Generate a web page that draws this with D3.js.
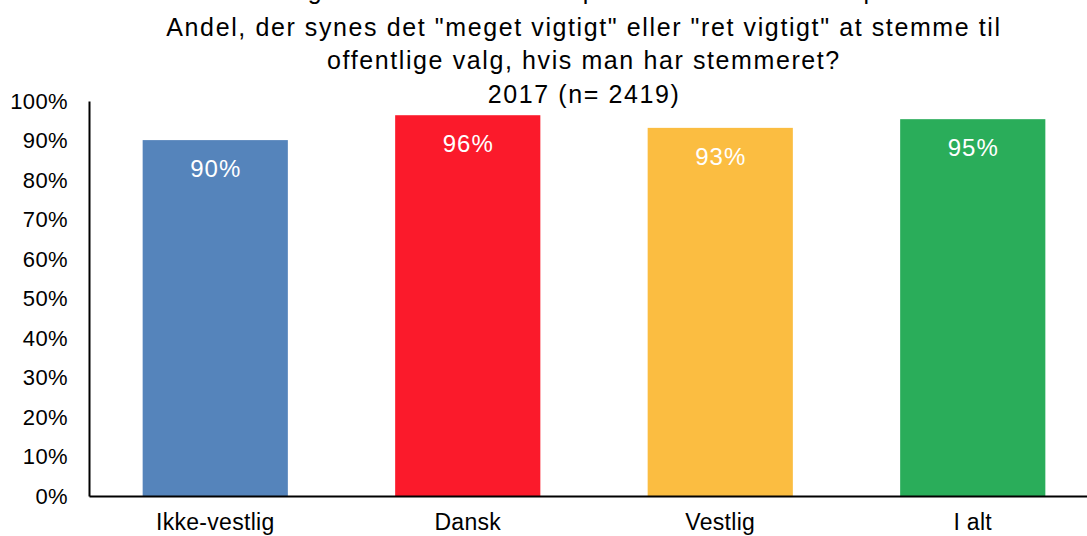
<!DOCTYPE html>
<html><head><meta charset="utf-8">
<script src="https://cdn.jsdelivr.net/npm/d3@7"></script>
<style>body{margin:0;background:#fff}svg{display:block;font-family:"Liberation Sans",Arial,sans-serif}</style>
</head><body><svg id="c" width="1087" height="536"></svg>
<script>
const categories = ["Ikke-vestlig","Dansk","Vestlig","I alt"];
const values = [90.1, 96.4, 93.2, 95.4];
const colors = ["#5584BB","#FB1A2B","#FBBD41","#2AAD5A"];
const yTicks = [0,10,20,30,40,50,60,70,80,90,100];
const titleLines = [
  "Indvandrere og efterkommere samt personer med dansk oprindelse",
  "Andel, der synes det \"meget vigtigt\" eller \"ret vigtigt\" at stemme til",
  "offentlige valg, hvis man har stemmeret?",
  "2017 (n= 2419)"
];

const svg = d3.select("#c");
const x0 = 89, x1 = 1099, yTop = 101, yBot = 496;
const x = d3.scaleBand().domain(categories).range([x0, x1]).paddingInner(0.425).paddingOuter(0.2125);
const y = d3.scaleLinear().domain([0,100]).range([yBot, yTop]);

// titles
const tBase = [-1, 36, 69, 103];
svg.append("g").selectAll("text").data(titleLines).join("text")
  .attr("x", (d,i)=> i===0 ? 556 : 584).attr("y",(d,i)=>tBase[i])
  .attr("text-anchor","middle").attr("font-size",25).attr("letter-spacing",1.6)
  .attr("fill","#000").text(d=>d);

// bars
svg.append("g").selectAll("rect").data(values).join("rect")
  .attr("x",(d,i)=>x(categories[i])).attr("width",x.bandwidth())
  .attr("y",d=>y(d)).attr("height",d=>yBot-y(d))
  .attr("fill",(d,i)=>colors[i]);

// value labels
svg.append("g").selectAll("text").data(values).join("text")
  .attr("x",(d,i)=>x(categories[i])+x.bandwidth()/2+0.5).attr("y",d=>y(d)+37)
  .attr("text-anchor","middle").attr("font-size",24).attr("letter-spacing",1).attr("fill","#fff")
  .text(d=>Math.round(d)+"%");

// y axis
const ya = svg.append("g").attr("transform",`translate(${x0},0)`)
  .call(d3.axisLeft(y).tickValues(yTicks).tickSize(0).tickPadding(21).tickFormat(d=>d+"%"));
ya.select(".domain").attr("stroke","#000").attr("stroke-width",2);
ya.selectAll("text").attr("font-size",22).attr("letter-spacing",0.4).attr("fill","#000").attr("font-family","Liberation Sans, Arial, sans-serif");

// x axis
const xa = svg.append("g").attr("transform",`translate(0,${yBot})`)
  .call(d3.axisBottom(x).tickSize(0).tickPadding(18));
xa.select(".domain").attr("stroke","#000").attr("stroke-width",2);
xa.selectAll("text").attr("font-size",23).attr("letter-spacing",0.3).attr("fill","#000").attr("font-family","Liberation Sans, Arial, sans-serif");
</script></body></html>
